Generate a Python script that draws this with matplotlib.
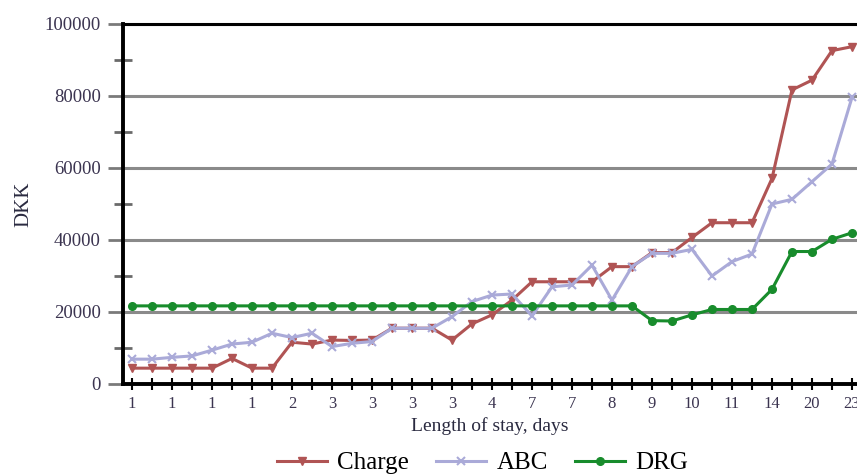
import matplotlib

matplotlib.use("Agg")
import matplotlib.pyplot as plt
import numpy as np
from matplotlib.ticker import MultipleLocator

# length of stay labels shown under every second point
stay_labels = ["1", "1", "1", "1", "2", "3", "3", "3", "3", "4",
               "7", "7", "8", "9", "10", "11", "14", "20", "23"]

charge = [4400, 4400, 4400, 4400, 4400, 7100, 4400, 4400, 11600, 11100,
          12200, 12100, 12200, 15500, 15500, 15500, 12200, 16700, 19200, 23300,
          28400, 28400, 28400, 28400, 32600, 32600, 36500, 36500, 40700, 44800,
          44800, 44800, 57100, 81700, 84400, 92600, 93700]
abc = [6900, 6900, 7400, 7800, 9400, 11100, 11600, 14100, 12900, 14100,
       10400, 11300, 11800, 15500, 15500, 15500, 18700, 22900, 24700, 25000,
       18900, 27000, 27500, 33000, 23300, 32600, 36300, 36300, 37400, 30000,
       34000, 36100, 50000, 51300, 56200, 61100, 79600]
drg = [21700] * 26 + [17600, 17500, 19200, 20700, 20700, 20700, 26300, 36800,
                      36800, 40200, 42000]

serif = ["Liberation Serif", "DejaVu Serif"]
tick_color = "#3b3450"

fig = plt.figure(figsize=(8.57, 4.76), dpi=100)
ax = fig.add_axes([123 / 857, 92 / 476, (857 - 123) / 857, 360 / 476])

x = np.arange(len(charge))
ax.plot(x, charge, color="#b05454", lw=2.2, marker="v", ms=6, label="Charge")
ax.plot(x, abc, color="#aaaad8", lw=2.2, marker="x", ms=6, mew=1.5, label="ABC")
ax.plot(x, drg, color="#188c2c", lw=2.2, marker="o", ms=5.5, label="DRG")

ax.set_xlim(-0.45, 36.25)
ax.set_ylim(0, 100000)

ax.yaxis.set_major_locator(MultipleLocator(20000))
ax.yaxis.set_minor_locator(MultipleLocator(10000))
ax.grid(axis="y", which="major", color="#8a8a8a", lw=2.2, zorder=0)
ax.set_axisbelow(True)

ax.set_xticks(x, minor=True)
ax.set_xticks(x[::2])
ax.set_xticklabels(stay_labels)

ax.tick_params(axis="y", which="major", direction="out", length=11, width=2,
               color="#7a7a7a", labelsize=13.5, labelcolor=tick_color, pad=5)
ax.tick_params(axis="y", which="minor", direction="inout", length=13, width=2,
               color="#6a6a6a")
ax.tick_params(axis="x", which="both", direction="inout", length=9, width=1.5,
               color="black", labelsize=12, labelcolor=tick_color, pad=4)
for lab in ax.get_xticklabels() + ax.get_yticklabels():
    lab.set_family(serif)

for side in ["left", "bottom"]:
    ax.spines[side].set_linewidth(2.8)
    ax.spines[side].set_color("black")
ax.spines["top"].set_linewidth(2.2)
ax.spines["right"].set_visible(False)

ax.set_xlabel("Length of stay, days", family=serif, fontsize=14, color="#2a2a40", labelpad=4)
ax.set_ylabel("DKK", family=serif, fontsize=15, color="#2a2a40", labelpad=8)

ax.legend(loc="upper center", bbox_to_anchor=(0.49, -0.147), ncol=3, frameon=False,
          prop={"family": serif, "size": 18}, handlelength=2.0, columnspacing=1.1,
          handletextpad=0.4, borderaxespad=0.2)

fig.savefig("out.png", dpi=100)
